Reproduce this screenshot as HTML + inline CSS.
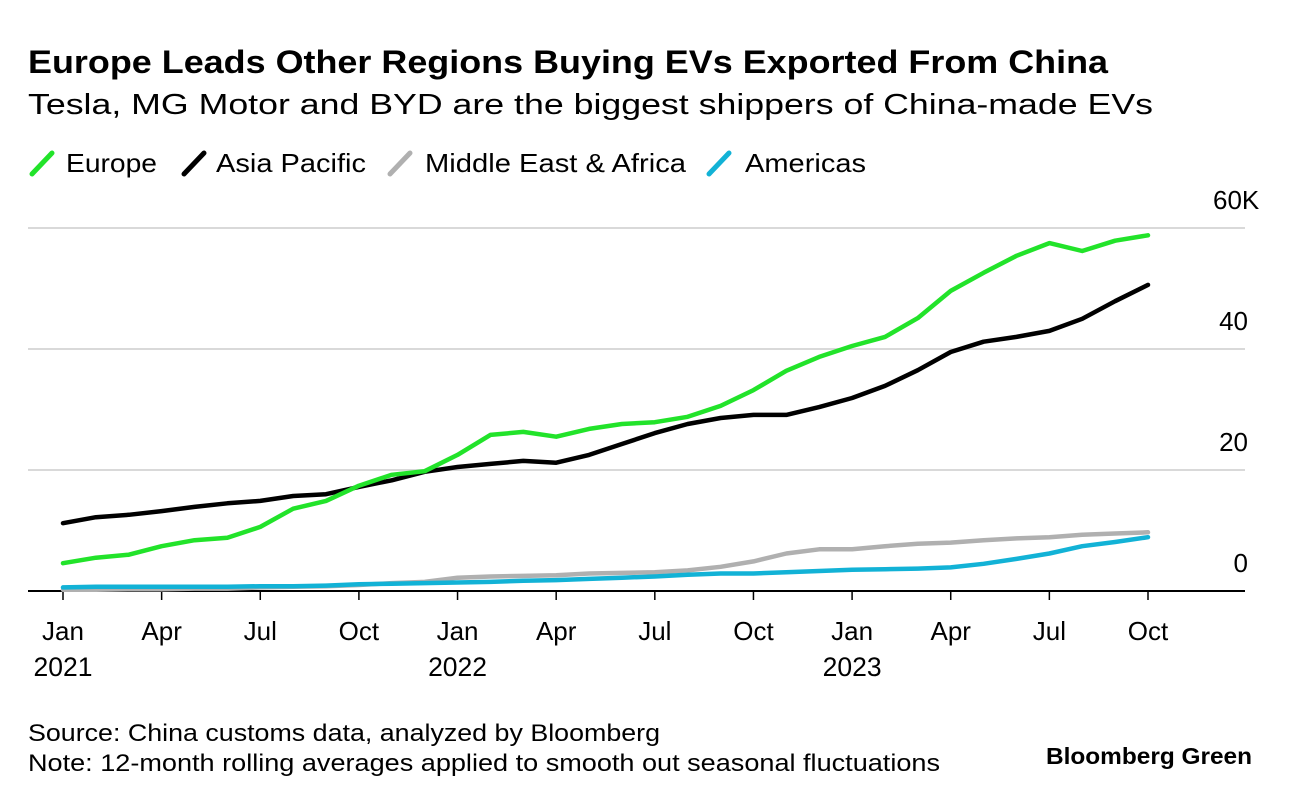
<!DOCTYPE html>
<html><head><meta charset="utf-8"><style>
body{margin:0;background:#fff;font-family:"Liberation Sans",Arial,sans-serif;}
svg text{font-family:"Liberation Sans",Arial,sans-serif;}
</style></head><body>
<svg width="1296" height="802" viewBox="0 0 1296 802" id="chart">
<text x="28" y="73" font-size="32" font-weight="bold" fill="#000" textLength="1080" lengthAdjust="spacingAndGlyphs">Europe Leads Other Regions Buying EVs Exported From China</text>
<text x="28" y="114" font-size="29" fill="#000" textLength="1125" lengthAdjust="spacingAndGlyphs">Tesla, MG Motor and BYD are the biggest shippers of China-made EVs</text>
<g id="legend"></g>
<g id="grid"></g>
<g id="yaxis"></g>
<g id="xaxis"></g>
<g id="series"></g>
<text x="28" y="741" font-size="24" fill="#000" textLength="632" lengthAdjust="spacingAndGlyphs">Source: China customs data, analyzed by Bloomberg</text>
<text x="28" y="771" font-size="24" fill="#000" textLength="912" lengthAdjust="spacingAndGlyphs">Note: 12-month rolling averages applied to smooth out seasonal fluctuations</text>
<text x="1046" y="764" font-size="23" font-weight="bold" fill="#000" textLength="206" lengthAdjust="spacingAndGlyphs">Bloomberg Green</text>
</svg>
<script>
const months = 34;
const seriesNames = ["Europe","Asia Pacific","Middle East & Africa","Americas"];
const seriesColors = ["#22e32a","#000000","#b0b0b0","#12b2d6"];
const europe = [4.6,5.5,6,7.4,8.4,8.8,10.6,13.6,14.9,17.4,19.2,19.8,22.5,25.8,26.3,25.5,26.8,27.6,27.9,28.8,30.6,33.2,36.4,38.7,40.5,42,45.1,49.6,52.6,55.4,57.5,56.2,57.9,58.8];
const asiaPacific = [11.2,12.2,12.6,13.2,13.9,14.5,14.9,15.7,16,17.2,18.3,19.7,20.5,21,21.5,21.2,22.5,24.3,26.1,27.6,28.6,29.1,29.1,30.4,31.9,33.9,36.5,39.5,41.2,42,43,45,47.9,50.6];
const middleEast = [0.2,0.2,0.3,0.3,0.4,0.4,0.6,0.7,0.8,1.0,1.3,1.5,2.2,2.4,2.5,2.6,2.9,3.0,3.1,3.4,4.0,4.9,6.2,6.9,6.9,7.4,7.8,8.0,8.4,8.7,8.9,9.3,9.5,9.7];
const americas = [0.6,0.7,0.7,0.7,0.7,0.7,0.8,0.8,0.9,1.1,1.2,1.3,1.4,1.5,1.7,1.8,2.0,2.2,2.4,2.7,2.9,2.9,3.1,3.3,3.5,3.6,3.7,3.9,4.5,5.3,6.2,7.4,8.1,8.9];
const yTicks = [0,20,40,60];
const yTickLabels = ["0","20","40","60K"];
const xTickIdx = [0,3,6,9,12,15,18,21,24,27,30,33];
const xTickLabels = ["Jan","Apr","Jul","Oct","Jan","Apr","Jul","Oct","Jan","Apr","Jul","Oct"];
const yearLabels = {0:"2021",12:"2022",24:"2023"};

const NS="http://www.w3.org/2000/svg";
const x = i => 63 + i*(1148-63)/33;
const y = v => 591 - v*121/20;
function mk(tag,attrs,parent,text){const e=document.createElementNS(NS,tag);for(const k in attrs)e.setAttribute(k,attrs[k]);if(text!==undefined)e.textContent=text;parent.appendChild(e);return e;}
const grid=document.getElementById('grid'), ya=document.getElementById('yaxis'), xa=document.getElementById('xaxis'), sg=document.getElementById('series'), lg=document.getElementById('legend');
yTicks.forEach((t,i)=>{
  if(t!==0){const l=mk('line',{x1:28,x2:1245,y1:y(t),y2:y(t),stroke:'#d9d9d9','stroke-width':2},grid);
  
  }
  const isLast = i===yTicks.length-1;
  const tx=mk('text',isLast?{x:1213,y:y(t)-19,'font-size':26,'text-anchor':'start',fill:'#000'}:{x:1248,y:y(t)-19,'font-size':26,'text-anchor':'end',fill:'#000'},ya,yTickLabels[i]);
  
  
});
const base=mk('line',{x1:28,x2:1245,y1:591,y2:591,stroke:'#000','stroke-width':2},xa);


xTickIdx.forEach((m,i)=>{
  const tk=mk('line',{x1:x(m),x2:x(m),y1:591,y2:600,stroke:'#000','stroke-width':1.5},xa);
  
  
  const tl=mk('text',{x:x(m),y:640,'font-size':26,'text-anchor':'middle',fill:'#000'},xa,xTickLabels[i]);
  
  
  if(yearLabels[m]){const yl=mk('text',{x:x(m),y:676,'font-size':26.5,'text-anchor':'middle',fill:'#000'},xa,yearLabels[m]);
  
  }
});
const data=[europe,asiaPacific,middleEast,americas];
const order=[2,3,1,0];
order.forEach(s=>{
  const d=data[s].map((v,i)=>(i?'L':'M')+x(i).toFixed(1)+','+y(v).toFixed(1)).join('');
  const p=mk('path',{d:d,fill:'none',stroke:seriesColors[s],'stroke-width':4.5,'stroke-linejoin':'round','stroke-linecap':'round'},sg);
  
  
});
const legX=[30,182,388,707];
const legTextX=[66,216,425,745];
const legTextW=[91,150,261,121];
seriesNames.forEach((n,s)=>{
  const g=mk('g',{},lg);
  
  
  mk('line',{x1:legX[s]+2,y1:174,x2:legX[s]+22,y2:153,stroke:seriesColors[s],'stroke-width':5,'stroke-linecap':'round'},g);
  mk('text',{x:legTextX[s],y:172,'font-size':26,fill:'#000',textLength:legTextW[s],lengthAdjust:'spacingAndGlyphs'},g,n);
});
</script>
</body></html>
